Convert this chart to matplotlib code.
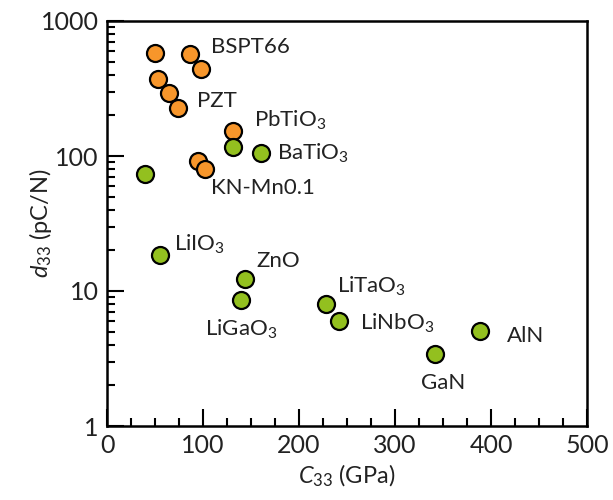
import matplotlib
matplotlib.use('Agg')
import matplotlib.pyplot as plt
from matplotlib.ticker import MultipleLocator, LogLocator, NullFormatter

plt.rcParams['font.family'] = ['Lato', 'DejaVu Sans']
plt.rcParams['mathtext.fontset'] = 'custom'
plt.rcParams['mathtext.rm'] = 'Lato'
plt.rcParams['mathtext.it'] = 'Lato:style=italic'

# orange group (ferroelectric perovskites)
c33_orange = [50, 86, 98, 53, 65, 74, 131, 95, 102]
d33_orange = [580, 570, 441, 372, 293, 227, 153, 92, 80]

# green group
c33_green = [40, 131, 160, 55, 144, 140, 228, 242, 342, 389]
d33_green = [73.6, 117, 105, 18.5, 12.3, 8.6, 8.0, 6.0, 3.4, 5.05]

# labels: name, (x, y) of labelled point, offset in pixels, alignment
labels = ['BSPT66', 'PZT', r'PbTiO$_3$', r'BaTiO$_3$', 'KN-Mn0.1', r'LiIO$_3$',
          'ZnO', r'LiGaO$_3$', r'LiTaO$_3$', r'LiNbO$_3$', 'GaN', 'AlN']
label_x = [86, 74, 131, 160, 102, 55, 144, 140, 228, 242, 342, 389]
label_y = [570, 227, 153, 105, 80, 18.5, 12.3, 8.6, 8.0, 6.0, 3.4, 5.05]
offsets = [(21, 7), (19, 7), (21, 11), (16, 0), (6, -19), (14, 11),
           (11, 18), (-36, -30), (11, 18), (21, -2), (8, -29), (26, -5)]
aligns = ['left'] * 10 + ['center', 'left']

fig = plt.figure(figsize=(6.13, 5), dpi=100)
ax = fig.add_axes([0.1746, 0.148, 0.783, 0.81])

ax.scatter(c33_orange, d33_orange, s=150, color='#F7962B', edgecolors='black',
           linewidths=1.6, zorder=3)
ax.scatter(c33_green, d33_green, s=150, color='#93C01F', edgecolors='black',
           linewidths=1.6, zorder=3)

for txt, x, y, off, ha in zip(labels, label_x, label_y, offsets, aligns):
    ax.annotate(txt, (x, y), xytext=off, textcoords='offset pixels',
                ha=ha, va='center', fontsize=16, color='#222222')

ax.set_yscale('log')
ax.set_xlim(0, 500)
ax.set_ylim(1, 1000)
ax.xaxis.set_major_locator(MultipleLocator(100))
ax.xaxis.set_minor_locator(MultipleLocator(25))
ax.yaxis.set_major_locator(LogLocator(base=10, numticks=10))
ax.yaxis.set_minor_locator(LogLocator(base=10, subs=range(2, 10), numticks=10))
ax.yaxis.set_minor_formatter(NullFormatter())
ax.set_yticks([1, 10, 100, 1000])
ax.set_yticklabels(['1', '10', '100', '1000'])

ax.tick_params(which='both', direction='in', top=False, right=False,
               labelsize=18, width=1.5, labelcolor='#222222')
ax.tick_params(which='major', length=12, pad=6)
ax.tick_params(which='minor', length=6)
for sp in ax.spines.values():
    sp.set_linewidth(1.8)

ax.set_xlabel(r'$C_{33}$ (GPa)', fontsize=17, labelpad=4, color='#222222')
ax.set_ylabel(r'$d_{33}$ (pC/N)', fontsize=17, color='#222222')
ax.yaxis.set_label_coords(-0.11, 0.5)

fig.savefig('out.png', dpi=100)
